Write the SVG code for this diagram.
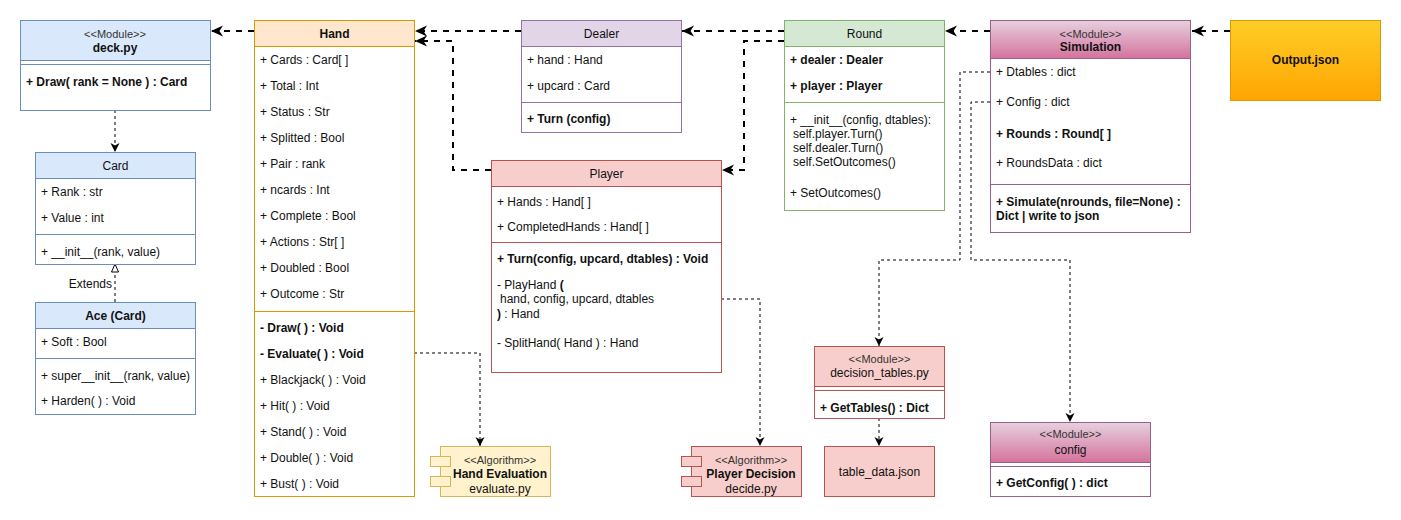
<svg xmlns="http://www.w3.org/2000/svg" width="1401" height="520" viewBox="0 0 1401 520">
<defs>
  <linearGradient id="gradPink" x1="0" y1="0" x2="0" y2="1">
    <stop offset="0" stop-color="#e6d0de"/>
    <stop offset="1" stop-color="#d5739d"/>
  </linearGradient>
  <linearGradient id="gradOrange" x1="0" y1="0" x2="0" y2="1">
    <stop offset="0" stop-color="#ffcd28"/>
    <stop offset="1" stop-color="#ffa500"/>
  </linearGradient>
  <marker id="arrowBig" markerUnits="userSpaceOnUse" markerWidth="14" markerHeight="14" viewBox="-13 -7 14 14" refX="0" refY="0" orient="auto">
    <path d="M0,0 L-12,-5.5 L-8.5,0 L-12,5.5 Z" fill="#000"/>
  </marker>
  <marker id="arrowSmall" markerUnits="userSpaceOnUse" markerWidth="12" markerHeight="12" viewBox="-11 -6 12 12" refX="0" refY="0" orient="auto">
    <path d="M0,0 L-9,-4.5 L-6.5,0 L-9,4.5 Z" fill="#000"/>
  </marker>
  <marker id="triOpen" markerUnits="userSpaceOnUse" markerWidth="12" markerHeight="12" viewBox="-11 -6 12 12" refX="0" refY="0" orient="auto">
    <path d="M0,0 L-8,-3.5 L-8,3.5 Z" fill="#fff" stroke="#000" stroke-width="1"/>
  </marker>
</defs>
<style>
  text { font-family: "Liberation Sans", Arial, Helvetica, sans-serif; font-size: 12px; fill: #111; }
  .c { text-anchor: middle; }
  .b { font-weight: bold; }
  .st { font-size: 11px; fill: #333; }
  .box { fill: #fff; }
  .blue { stroke: #6c8ebf; }
  .orange { stroke: #d79b00; }
  .purple { stroke: #9673a6; }
  .red { stroke: #b85450; }
  .green { stroke: #82b366; }
  .plum { stroke: #996185; }
  .yellow { stroke: #d6b656; }
  .thick { fill: none; stroke: #000; stroke-width: 2; stroke-dasharray: 6 6; marker-end: url(#arrowBig); }
  .thin { fill: none; stroke: #000; stroke-width: 1; stroke-dasharray: 3 3; marker-end: url(#arrowSmall); }
</style>

<rect width="1401" height="520" fill="#fff"/>

<!-- connectors -->
<g id="connectors">
  <path class="thick" d="M254,31 H211"/>
  <path class="thick" d="M521,31 H415"/>
  <path class="thick" d="M491,170 H453 V41 H415"/>
  <path class="thick" d="M784,31 H682"/>
  <path class="thick" d="M784,41 H744 V170 H722"/>
  <path class="thick" d="M990,31 H945"/>
  <path class="thick" d="M1230,31 H1192"/>
  <path class="thin" d="M115,110 V152"/>
  <path fill="none" stroke="#000" stroke-width="1" stroke-dasharray="3 3" marker-end="url(#triOpen)" d="M115,302 V264"/>
  <text x="112" y="288" text-anchor="end" fill="#222">Extends</text>
  <path class="thin" d="M414,353 H480 V446"/>
  <path class="thin" d="M721,299 H760 V446"/>
  <path class="thin" d="M990,72 H960 V260 H879 V346"/>
  <path class="thin" d="M990,102 H971 V260 H1070 V422"/>
  <path class="thin" d="M879,418 V446"/>
</g>

<!-- deck.py module -->
<g id="deck">
  <rect x="20.5" y="20.5" width="190" height="90" class="box blue"/>
  <rect x="20.5" y="20.5" width="190" height="40" fill="#dae8fc" class="blue"/>
  <line x1="20.5" y1="64.5" x2="210.5" y2="64.5" class="blue"/>
  <text x="115" y="38" class="c st">&lt;&lt;Module&gt;&gt;</text>
  <text x="115" y="52" class="c b">deck.py</text>
  <text x="26" y="86" class="b">+ Draw( rank = None ) : Card</text>
</g>

<!-- Card class -->
<g id="card">
  <rect x="35.5" y="152.5" width="160" height="112" class="box blue"/>
  <rect x="35.5" y="152.5" width="160" height="26" fill="#dae8fc" class="blue"/>
  <line x1="35.5" y1="234.5" x2="195.5" y2="234.5" class="blue"/>
  <text x="115.5" y="170" class="c">Card</text>
  <text x="41" y="196">+ Rank : str</text>
  <text x="41" y="222">+ Value : int</text>
  <text x="41" y="256">+ __init__(rank, value)</text>
</g>

<!-- Ace class -->
<g id="ace">
  <rect x="35.5" y="302.5" width="160" height="112" class="box blue"/>
  <rect x="35.5" y="302.5" width="160" height="26" fill="#dae8fc" class="blue"/>
  <line x1="35.5" y1="358.5" x2="195.5" y2="358.5" class="blue"/>
  <text x="115.5" y="320" class="c b">Ace (Card)</text>
  <text x="41" y="346">+ Soft : Bool</text>
  <text x="41" y="380">+ super__init__(rank, value)</text>
  <text x="41" y="405">+ Harden( ) : Void</text>
</g>

<!-- Hand class -->
<g id="hand">
  <rect x="254.5" y="20.5" width="160" height="476" class="box orange"/>
  <rect x="254.5" y="20.5" width="160" height="26" fill="#ffe6cc" class="orange"/>
  <line x1="254.5" y1="311.5" x2="414.5" y2="311.5" class="orange"/>
  <text x="334.5" y="38" class="c b">Hand</text>
  <text x="260" y="64">+ Cards : Card[ ]</text>
  <text x="260" y="90">+ Total : Int</text>
  <text x="260" y="116">+ Status : Str</text>
  <text x="260" y="142">+ Splitted : Bool</text>
  <text x="260" y="168">+ Pair : rank</text>
  <text x="260" y="194">+ ncards : Int</text>
  <text x="260" y="220">+ Complete : Bool</text>
  <text x="260" y="246">+ Actions : Str[ ]</text>
  <text x="260" y="272">+ Doubled : Bool</text>
  <text x="260" y="298">+ Outcome : Str</text>
  <text x="260" y="332" class="b">- Draw( ) : Void</text>
  <text x="260" y="358" class="b">- Evaluate( ) : Void</text>
  <text x="260" y="384">+ Blackjack( ) : Void</text>
  <text x="260" y="410">+ Hit( ) : Void</text>
  <text x="260" y="436">+ Stand( ) : Void</text>
  <text x="260" y="462">+ Double( ) : Void</text>
  <text x="260" y="488">+ Bust( ) : Void</text>
</g>

<!-- Dealer class -->
<g id="dealer">
  <rect x="521.5" y="20.5" width="160" height="112" class="box purple"/>
  <rect x="521.5" y="20.5" width="160" height="26" fill="#e1d5e7" class="purple"/>
  <line x1="521.5" y1="102.5" x2="681.5" y2="102.5" class="purple"/>
  <text x="601.5" y="38" class="c">Dealer</text>
  <text x="527" y="64">+ hand : Hand</text>
  <text x="527" y="90">+ upcard : Card</text>
  <text x="527" y="123" class="b">+ Turn (config)</text>
</g>

<!-- Player class -->
<g id="player">
  <rect x="491.5" y="160.5" width="230" height="212" class="box red"/>
  <rect x="491.5" y="160.5" width="230" height="26" fill="#f8cecc" class="red"/>
  <line x1="491.5" y1="242.5" x2="721.5" y2="242.5" class="red"/>
  <text x="606.5" y="178" class="c">Player</text>
  <text x="497" y="206">+ Hands : Hand[ ]</text>
  <text x="497" y="231">+ CompletedHands : Hand[ ]</text>
  <text x="497" y="263" class="b">+ Turn(config, upcard, dtables) : Void</text>
  <text x="497" y="289">- PlayHand <tspan class="b">(</tspan></text>
  <text x="500" y="303">hand, config, upcard, dtables</text>
  <text x="497" y="318"><tspan class="b">)</tspan> : Hand</text>
  <text x="497" y="347">- SplitHand( Hand ) : Hand</text>
</g>

<!-- Round class -->
<g id="round">
  <rect x="784.5" y="20.5" width="160" height="190" class="box green"/>
  <rect x="784.5" y="20.5" width="160" height="26" fill="#d5e8d4" class="green"/>
  <line x1="784.5" y1="102.5" x2="944.5" y2="102.5" class="green"/>
  <text x="864.5" y="38" class="c">Round</text>
  <text x="790" y="64" class="b">+ dealer : Dealer</text>
  <text x="790" y="90" class="b">+ player : Player</text>
  <text x="790" y="124">+ __init__(config, dtables):</text>
  <text x="793" y="138">self.player.Turn()</text>
  <text x="793" y="152">self.dealer.Turn()</text>
  <text x="793" y="166">self.SetOutcomes()</text>
  <text x="790" y="197">+ SetOutcomes()</text>
</g>

<!-- Simulation module -->
<g id="simulation">
  <rect x="990.5" y="20.5" width="200" height="212" class="box plum"/>
  <rect x="990.5" y="20.5" width="200" height="38" fill="url(#gradPink)" class="plum"/>
  <line x1="990.5" y1="184.5" x2="1190.5" y2="184.5" class="plum"/>
  <text x="1090.5" y="38" class="c st">&lt;&lt;Module&gt;&gt;</text>
  <text x="1090.5" y="51" class="c b">Simulation</text>
  <text x="996" y="76">+ Dtables : dict</text>
  <text x="996" y="106">+ Config : dict</text>
  <text x="996" y="138" class="b">+ Rounds : Round[ ]</text>
  <text x="996" y="167">+ RoundsData : dict</text>
  <text x="996" y="206" class="b">+ Simulate(nrounds, file=None) :</text>
  <text x="996" y="220" class="b">Dict | write to json</text>
</g>

<!-- Output.json file -->
<g id="output">
  <rect x="1230.5" y="20.5" width="150" height="80" fill="url(#gradOrange)" stroke="#d79b00"/>
  <text x="1305.5" y="64" class="c b">Output.json</text>
</g>

<!-- Hand Evaluation algorithm component -->
<g id="hand-evaluation">
  <rect x="440.5" y="446.5" width="110" height="50" fill="#fff2cc" class="yellow"/>
  <rect x="430.5" y="456.5" width="20" height="10" fill="#fff2cc" class="yellow"/>
  <rect x="430.5" y="476.5" width="20" height="10" fill="#fff2cc" class="yellow"/>
  <text x="500" y="464" class="c st">&lt;&lt;Algorithm&gt;&gt;</text>
  <text x="500" y="478" class="c b">Hand Evaluation</text>
  <text x="500" y="493" class="c">evaluate.py</text>
</g>

<!-- Player Decision algorithm component -->
<g id="player-decision">
  <rect x="691.5" y="446.5" width="110" height="50" fill="#f8cecc" class="red"/>
  <rect x="681.5" y="456.5" width="20" height="10" fill="#f8cecc" class="red"/>
  <rect x="681.5" y="476.5" width="20" height="10" fill="#f8cecc" class="red"/>
  <text x="751" y="464" class="c st">&lt;&lt;Algorithm&gt;&gt;</text>
  <text x="751" y="478" class="c b">Player Decision</text>
  <text x="751" y="493" class="c">decide.py</text>
</g>

<!-- decision_tables.py module -->
<g id="decision-tables">
  <rect x="814.5" y="346.5" width="130" height="72" class="box red"/>
  <rect x="814.5" y="346.5" width="130" height="40" fill="#f8cecc" class="red"/>
  <line x1="814.5" y1="390.5" x2="944.5" y2="390.5" class="red"/>
  <text x="879.5" y="363" class="c st">&lt;&lt;Module&gt;&gt;</text>
  <text x="879.5" y="377" class="c">decision_tables.py</text>
  <text x="820" y="412" class="b">+ GetTables() : Dict</text>
</g>

<!-- table_data.json file -->
<g id="table-data">
  <rect x="824.5" y="446.5" width="110" height="50" fill="#f8cecc" class="red"/>
  <text x="879.5" y="476" class="c">table_data.json</text>
</g>

<!-- config module -->
<g id="config">
  <rect x="990.5" y="422.5" width="160" height="74" class="box plum"/>
  <rect x="990.5" y="422.5" width="160" height="40" fill="url(#gradPink)" class="plum"/>
  <line x1="990.5" y1="466.5" x2="1150.5" y2="466.5" class="plum"/>
  <text x="1070.5" y="438" class="c st">&lt;&lt;Module&gt;&gt;</text>
  <text x="1070.5" y="454" class="c">config</text>
  <text x="996" y="487" class="b">+ GetConfig( ) : dict</text>
</g>
</svg>
